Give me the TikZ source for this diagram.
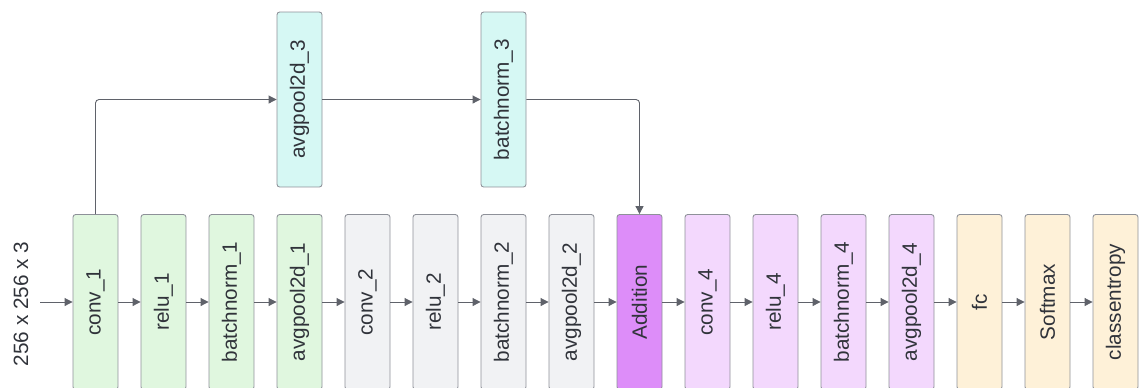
\documentclass[tikz,border=0pt]{standalone}
\usepackage{fontspec}
\setmainfont{Liberation Sans}
\usetikzlibrary{arrows.meta}

\definecolor{greenfill}{HTML}{E0F7DF}
\definecolor{grayfill}{HTML}{F1F2F4}
\definecolor{cyanfill}{HTML}{D6F8F4}
\definecolor{addfill}{HTML}{DD8DF9}
\definecolor{purplefill}{HTML}{F3D8FD}
\definecolor{creamfill}{HTML}{FEF1D8}
\definecolor{boxline}{HTML}{8E9199}
\definecolor{arrowline}{HTML}{5F626A}
\definecolor{labeltext}{HTML}{30333A}

\tikzset{
    layer/.style={draw=boxline, line width=0.5pt, rounded corners=1.5pt,
        minimum width=0.9cm, minimum height=3.5cm, inner sep=0pt,
        text=labeltext, font=\fontsize{11.8}{14}\selectfont},
    flow/.style={draw=arrowline, line width=0.5pt, rounded corners=2pt,
        -{Triangle[length=4.5pt,width=4.5pt]}}
}

\begin{document}
\begin{tikzpicture}[x=0.02cm, y=-0.02cm]
    % Page size of the reference
    \useasboundingbox (0,0) rectangle (1145,387);
    \clip (0,0) rectangle (1145,387);

    % Input size
    \node[text=labeltext, font=\fontsize{11.8}{14}\selectfont] (insize) at (21,304) {\rotatebox{90}{256 x 256 x 3}};
    \coordinate (in) at (40,302);

    % Main row
    \node[layer, fill=greenfill] (conv1) at (95.5,302) {\rotatebox{90}{conv\_1}};
    \node[layer, fill=greenfill] (relu1) at (163.5,302) {\rotatebox{90}{relu\_1}};
    \node[layer, fill=greenfill] (bn1) at (231.5,302) {\rotatebox{90}{batchnorm\_1}};
    \node[layer, fill=greenfill] (pool1) at (299.5,302) {\rotatebox{90}{avgpool2d\_1}};
    \node[layer, fill=grayfill] (conv2) at (367.5,302) {\rotatebox{90}{conv\_2}};
    \node[layer, fill=grayfill] (relu2) at (435.5,302) {\rotatebox{90}{relu\_2}};
    \node[layer, fill=grayfill] (bn2) at (503.5,302) {\rotatebox{90}{batchnorm\_2}};
    \node[layer, fill=grayfill] (pool2) at (571.5,302) {\rotatebox{90}{avgpool2d\_2}};
    \node[layer, fill=addfill] (add) at (639.5,302) {\rotatebox{90}{Addition}};
    \node[layer, fill=purplefill] (conv4) at (707.5,302) {\rotatebox{90}{conv\_4}};
    \node[layer, fill=purplefill] (relu4) at (775.5,302) {\rotatebox{90}{relu\_4}};
    \node[layer, fill=purplefill] (bn4) at (843.5,302) {\rotatebox{90}{batchnorm\_4}};
    \node[layer, fill=purplefill] (pool4) at (911.5,302) {\rotatebox{90}{avgpool2d\_4}};
    \node[layer, fill=creamfill] (fc) at (979.5,302) {\rotatebox{90}{fc}};
    \node[layer, fill=creamfill] (softmax) at (1047.5,302) {\rotatebox{90}{Softmax}};
    \node[layer, fill=creamfill] (ce) at (1115.5,302) {\rotatebox{90}{classentropy}};

    % Shortcut branch
    \node[layer, fill=cyanfill] (pool3) at (299.5,99.5) {\rotatebox{90}{avgpool2d\_3}};
    \node[layer, fill=cyanfill] (bn3) at (503.5,99.5) {\rotatebox{90}{batchnorm\_3}};

    % Connections
    \draw[flow] (in) -- (conv1);
    \draw[flow] (conv1) -- (relu1);
    \draw[flow] (relu1) -- (bn1);
    \draw[flow] (bn1) -- (pool1);
    \draw[flow] (pool1) -- (conv2);
    \draw[flow] (conv2) -- (relu2);
    \draw[flow] (relu2) -- (bn2);
    \draw[flow] (bn2) -- (pool2);
    \draw[flow] (pool2) -- (add);
    \draw[flow] (add) -- (conv4);
    \draw[flow] (conv4) -- (relu4);
    \draw[flow] (relu4) -- (bn4);
    \draw[flow] (bn4) -- (pool4);
    \draw[flow] (pool4) -- (fc);
    \draw[flow] (fc) -- (softmax);
    \draw[flow] (softmax) -- (ce);

    \draw[flow] (conv1.north) |- (pool3.west);
    \draw[flow] (pool3) -- (bn3);
    \draw[flow] (bn3.east) -| (add.north);
\end{tikzpicture}
\end{document}
